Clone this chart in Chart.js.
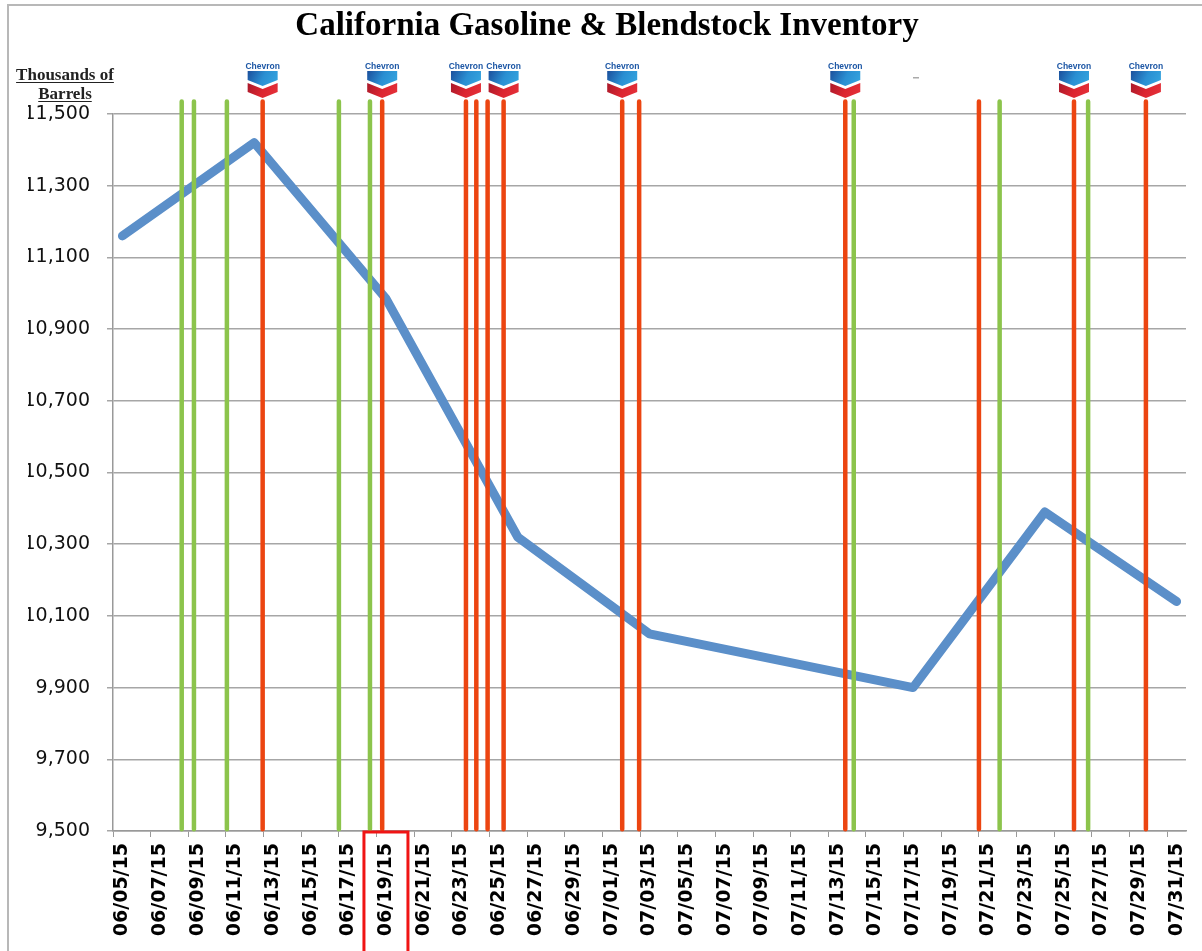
<!DOCTYPE html>
<html>
<head>
<meta charset="utf-8">
<script src="https://cdn.jsdelivr.net/npm/chart.js@4.4.0/dist/chart.umd.min.js"></script>
<style>
  html, body { margin: 0; padding: 0; background: #fff; }
  #wrap { width: 1202px; height: 951px; }
</style>
</head>
<body>
<div id="wrap"><canvas id="inventoryChart" width="1202" height="951"></canvas></div>
<script>
// x axis: one label every two days, 06/05/15 .. 07/31/15
const tickLabels = [
  '06/05/15', '06/07/15', '06/09/15', '06/11/15', '06/13/15', '06/15/15', '06/17/15',
  '06/19/15', '06/21/15', '06/23/15', '06/25/15', '06/27/15', '06/29/15', '07/01/15',
  '07/03/15', '07/05/15', '07/07/15', '07/09/15', '07/11/15', '07/13/15', '07/15/15',
  '07/17/15', '07/19/15', '07/21/15', '07/23/15', '07/25/15', '07/27/15', '07/29/15',
  '07/31/15'
];

// weekly inventory, thousands of barrels
const inventoryDates = ['06/05/15', '06/12/15', '06/19/15', '06/26/15', '07/03/15', '07/17/15', '07/24/15', '07/31/15'];
const inventoryValues = [11160, 11420, 10985, 10320, 10050, 9900, 10390, 10140];

// event markers, in days after 06/05/15
const greenEventDays = [3.15, 3.8, 5.55, 11.5, 13.15, 38.85, 46.6, 51.3];
const redEventDays = [7.45, 13.8, 18.25, 18.8, 19.4, 20.25, 26.55, 27.45, 38.4, 45.5, 50.55, 54.37];
const chevronEvents = [true, true, true, false, false, true, true, false, true, false, true, true];

const highlightLabel = '06/19/15';

const startDate = new Date(2015, 5, 5);
function dayOf(label) {
  const [m, d, y] = label.split('/').map(Number);
  return Math.round((new Date(2000 + y, m - 1, d) - startDate) / 86400000);
}

function eventLine(days) {
  const pts = [];
  days.forEach(d => {
    pts.push({ x: d, y: 9505 });
    pts.push({ x: d, y: 11535 });
    pts.push({ x: d, y: null });
  });
  return pts;
}

function drawChevron(ctx, cx, top) {
  const l = cx - 15, r = cx + 15, y0 = top + 8;
  ctx.save();
  ctx.fillStyle = '#1d57a5';
  ctx.font = 'bold 8.5px "Liberation Sans Narrow", "Liberation Sans"';
  ctx.textAlign = 'center';
  ctx.textBaseline = 'top';
  ctx.fillText('Chevron', cx, top - 0.5);

  let g = ctx.createLinearGradient(l, y0, r, y0 + 15);
  g.addColorStop(0, '#1b4f9c');
  g.addColorStop(0.5, '#2a8fd2');
  g.addColorStop(1, '#35a6e0');
  ctx.fillStyle = g;
  ctx.beginPath();
  ctx.moveTo(l, y0); ctx.lineTo(r, y0); ctx.lineTo(r, y0 + 9);
  ctx.lineTo(cx, y0 + 15); ctx.lineTo(l, y0 + 9);
  ctx.closePath(); ctx.fill();

  g = ctx.createLinearGradient(l, y0 + 12, r, y0 + 27);
  g.addColorStop(0, '#a8192a');
  g.addColorStop(0.5, '#dc2530');
  g.addColorStop(1, '#e5323a');
  ctx.fillStyle = g;
  ctx.beginPath();
  ctx.moveTo(l, y0 + 12); ctx.lineTo(cx, y0 + 18); ctx.lineTo(r, y0 + 12);
  ctx.lineTo(r, y0 + 21); ctx.lineTo(cx, y0 + 27); ctx.lineTo(l, y0 + 21);
  ctx.closePath(); ctx.fill();
  ctx.restore();
}

const decorPlugin = {
  id: 'decor',
  beforeDraw(chart) {
    const ctx = chart.ctx;
    ctx.save();
    ctx.strokeStyle = '#b8b8b8';
    ctx.lineWidth = 2;
    ctx.beginPath();
    ctx.moveTo(8, chart.height);
    ctx.lineTo(8, 5);
    ctx.lineTo(chart.width, 5);
    ctx.stroke();
    ctx.restore();
  },
  afterDraw(chart) {
    const ctx = chart.ctx;
    const x = chart.scales.x;
    const area = chart.chartArea;

    redEventDays.forEach((d, i) => {
      if (chevronEvents[i]) drawChevron(ctx, x.getPixelForValue(d), 63);
    });

    // unit label
    ctx.save();
    ctx.fillStyle = '#222';
    ctx.strokeStyle = '#222';
    ctx.lineWidth = 1;
    ctx.font = 'bold 17px "Liberation Serif"';
    ctx.textAlign = 'center';
    ctx.textBaseline = 'alphabetic';
    [['Thousands of', 80], ['Barrels', 99]].forEach(([t, y]) => {
      ctx.fillText(t, 65, y);
      const w = ctx.measureText(t).width;
      ctx.beginPath();
      ctx.moveTo(65 - w / 2, y + 2.5);
      ctx.lineTo(65 + w / 2, y + 2.5);
      ctx.stroke();
    });
    ctx.fillStyle = '#aaa';
    ctx.fillRect(913, 77, 6, 1.5);

    // highlighted date label
    const k = tickLabels.indexOf(highlightLabel);
    const cx = x.getPixelForValue(dayOf(tickLabels[k]));
    ctx.strokeStyle = '#f01414';
    ctx.lineWidth = 3;
    ctx.strokeRect(cx - 22, area.bottom + 1, 44, 140);
    ctx.restore();
  }
};

new Chart(document.getElementById('inventoryChart'), {
  type: 'line',
  data: {
    datasets: [
      {
        label: 'Inventory',
        data: inventoryDates.map((d, i) => ({ x: dayOf(d), y: inventoryValues[i] })),
        borderColor: '#5b8fc9',
        borderWidth: 9,
        borderCapStyle: 'round',
        borderJoinStyle: 'round',
        pointRadius: 0,
        tension: 0,
        order: 3
      },
      {
        label: 'Green events',
        data: eventLine(greenEventDays),
        borderColor: '#8cc44c',
        borderWidth: 4.5,
        borderCapStyle: 'round',
        pointRadius: 0,
        spanGaps: false,
        clip: false,
        order: 2
      },
      {
        label: 'Red events',
        data: eventLine(redEventDays),
        borderColor: '#ec4511',
        borderWidth: 4.5,
        borderCapStyle: 'round',
        pointRadius: 0,
        spanGaps: false,
        clip: false,
        order: 1
      }
    ]
  },
  options: {
    responsive: false,
    animation: false,
    devicePixelRatio: 1,
    layout: { padding: { left: 28, right: 16, top: 0, bottom: 0 } },
    plugins: {
      legend: { display: false },
      tooltip: { enabled: false },
      title: {
        display: true,
        text: 'California Gasoline & Blendstock Inventory',
        color: '#000',
        font: { family: 'Liberation Serif', size: 33, weight: 'bold' },
        padding: { top: 7, bottom: 67.4 }
      }
    },
    scales: {
      x: {
        type: 'linear',
        min: -0.5,
        max: 56.5,
        afterBuildTicks: axis => {
          axis.ticks = tickLabels.map((l, k) => ({ value: -0.5 + 2 * k }));
        },
        afterFit: axis => { axis.height = 120; },
        grid: { drawOnChartArea: false, drawTicks: true, tickLength: 6, color: '#999' },
        border: { color: '#999', width: 1.5 },
        ticks: {
          autoSkip: false,
          minRotation: 90,
          maxRotation: 90,
          labelOffset: 9.4,
          padding: 6,
          color: '#000',
          font: { family: 'DejaVu Sans', size: 19, weight: 'bold' },
          callback: (v, i) => tickLabels[i]
        }
      },
      y: {
        min: 9500,
        max: 11500,
        afterFit: axis => { axis.width = 85; },
        grid: { color: '#a6a6a6', lineWidth: 1.5, tickLength: 6 },
        border: { color: '#999', width: 1.5 },
        ticks: {
          stepSize: 200,
          padding: 17,
          color: '#111',
          font: { family: 'DejaVu Sans', size: 19 },
          callback: v => v.toLocaleString('en-US')
        }
      }
    }
  },
  plugins: [decorPlugin]
});
</script>
</body>
</html>
